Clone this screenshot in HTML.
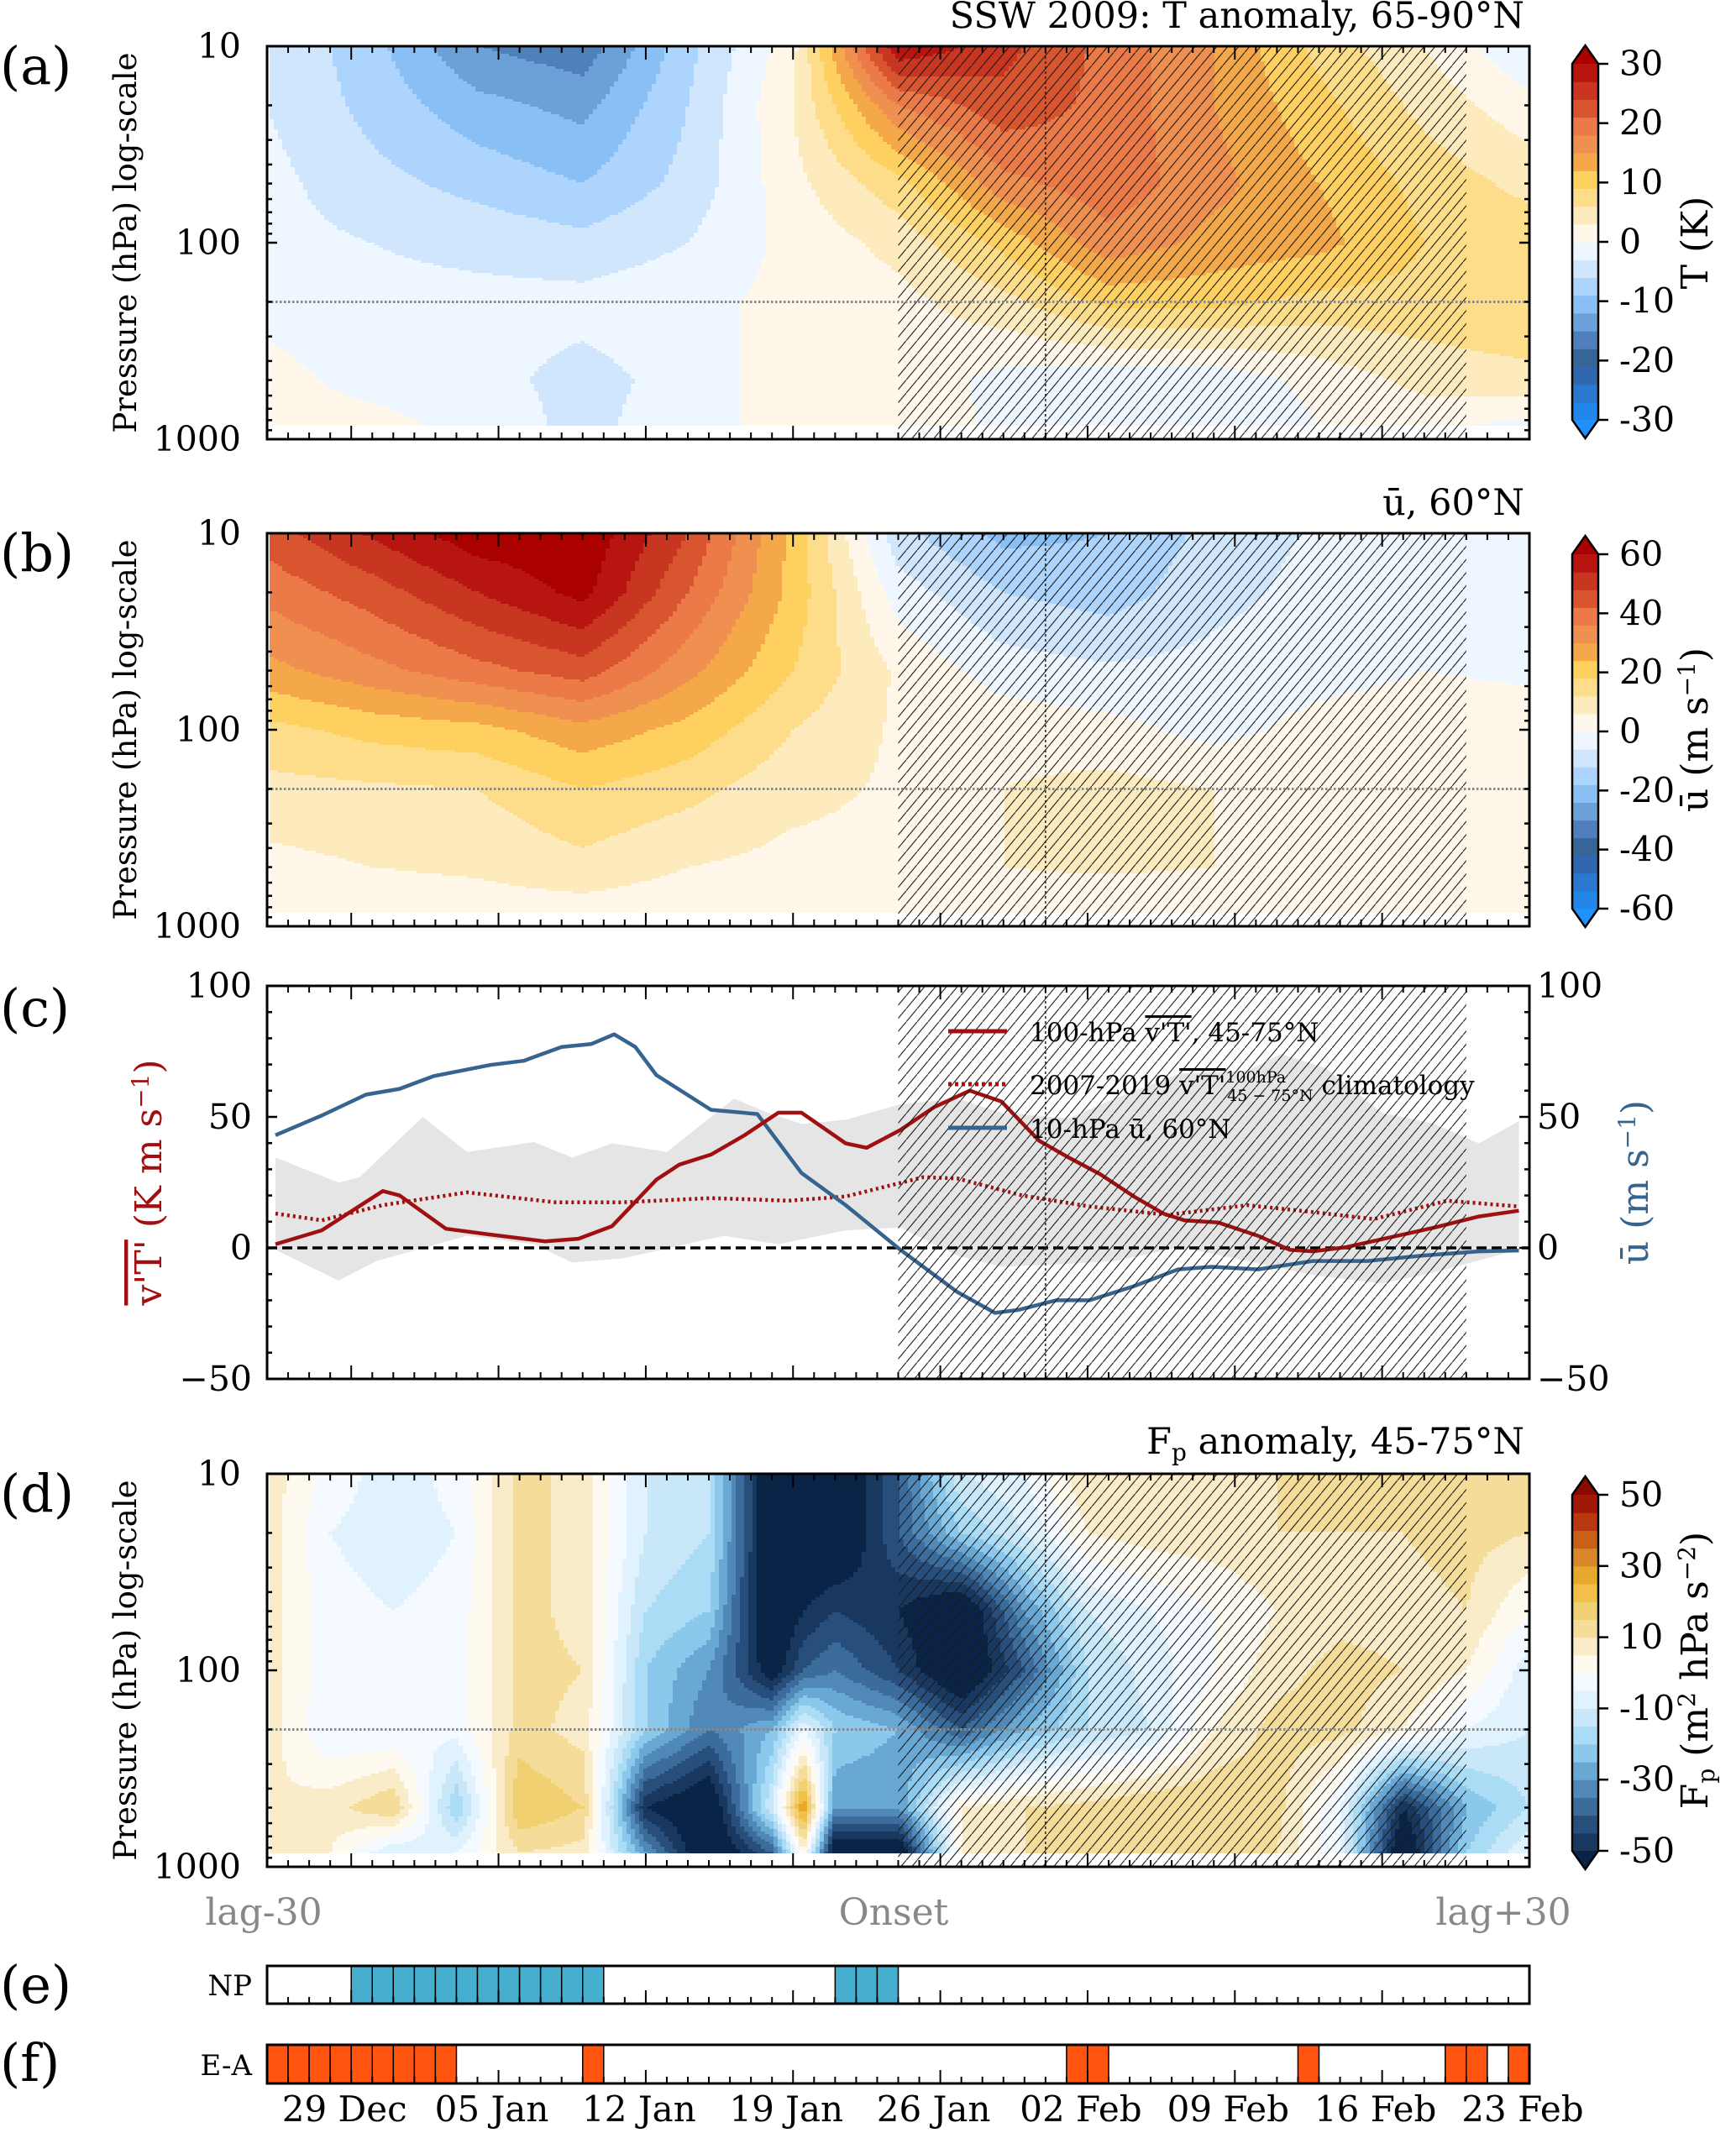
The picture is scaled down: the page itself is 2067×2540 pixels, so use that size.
<!DOCTYPE html>
<html><head><meta charset="utf-8">
<style>
html,body{margin:0;padding:0;background:#fff;}
svg{display:block;font-family:"DejaVu Serif","Liberation Serif",serif;}
</style></head>
<body>
<svg id="fig" width="2067" height="2540" viewBox="0 0 2067 2540" xmlns="http://www.w3.org/2000/svg">
<defs>
<pattern id="hatch" width="13" height="15.6" patternUnits="userSpaceOnUse">
<line x1="-1" y1="16.8" x2="14" y2="-1.2" stroke="#1a1a1a" stroke-width="1.1"/>
</pattern>
</defs>
<g id="layer-heat"></g>
<g id="layer-c"></g>
<g id="layer-over"></g>
<g id="layer-axes"></g>
<g id="layer-text" fill="#000">
<text x="0" y="100" font-size="62">(a)</text>
<text x="0" y="680" font-size="62">(b)</text>
<text x="0" y="1222" font-size="62">(c)</text>
<text x="0" y="1800" font-size="62">(d)</text>
<text x="0" y="2385" font-size="62">(e)</text>
<text x="0" y="2478" font-size="62">(f)</text>
<text x="1815" y="33" font-size="43" text-anchor="end">SSW 2009: T anomaly, 65-90°N</text>
<text x="1815" y="613" font-size="43" text-anchor="end">ū, 60°N</text>
<text x="1815" y="1731" font-size="43" text-anchor="end">F<tspan font-size="28" dy="8">p</tspan><tspan dy="-8"> anomaly, 45-75°N</tspan></text>
<text transform="translate(162,289) rotate(-90)" font-size="37" text-anchor="middle">Pressure (hPa) log-scale</text>
<text transform="translate(162,869) rotate(-90)" font-size="37" text-anchor="middle">Pressure (hPa) log-scale</text>
<text transform="translate(162,1989) rotate(-90)" font-size="37" text-anchor="middle">Pressure (hPa) log-scale</text>
<text transform="translate(2033,289) rotate(-90)" font-size="44" text-anchor="middle">T (K)</text>
<text transform="translate(2033,869) rotate(-90)" font-size="44" text-anchor="middle">ū (m s<tspan font-size="28" dy="-15">−1</tspan><tspan dy="15">)</tspan></text>
<text transform="translate(2033,1989) rotate(-90)" font-size="44" text-anchor="middle">F<tspan font-size="28" dy="8">p</tspan><tspan dy="-8"> (m</tspan><tspan font-size="28" dy="-15">2</tspan><tspan dy="15"> hPa s</tspan><tspan font-size="28" dy="-15">−2</tspan><tspan dy="15">)</tspan></text>
<text transform="translate(192,1408) rotate(-90)" font-size="44" text-anchor="middle" fill="#a01010"><tspan text-decoration="overline">v'T'</tspan> (K m s<tspan font-size="28" dy="-15">−1</tspan><tspan dy="15">)</tspan></text>
<text transform="translate(1962,1408) rotate(-90)" font-size="44" text-anchor="middle" fill="#36648f">ū (m s<tspan font-size="28" dy="-15">−1</tspan><tspan dy="15">)</tspan></text>
<text x="314" y="2292" font-size="44" fill="#888" text-anchor="middle">lag-30</text>
<text x="1064" y="2292" font-size="44" fill="#888" text-anchor="middle">Onset</text>
<text x="1790" y="2292" font-size="44" fill="#888" text-anchor="middle">lag+30</text>
<text x="300" y="2376" font-size="34" text-anchor="end">NP</text>
<text x="300" y="2471" font-size="34" text-anchor="end">E-A</text>
<g>
<line x1="1129" y1="1228" x2="1199" y2="1228" stroke="#a01010" stroke-width="5"/>
<text x="1226" y="1240" font-size="31">100-hPa <tspan text-decoration="overline">v'T'</tspan>, 45-75°N</text>
<line x1="1129" y1="1291" x2="1199" y2="1291" stroke="#a01010" stroke-width="5" stroke-dasharray="4 4"/>
<text x="1226" y="1303" font-size="31">2007-2019 <tspan text-decoration="overline">v'T'</tspan><tspan font-size="19" dy="-14">100hPa</tspan><tspan font-size="19" dx="-70" dy="22">45 − 75°N</tspan><tspan dy="-8"> climatology</tspan></text>
<line x1="1129" y1="1343" x2="1199" y2="1343" stroke="#36648f" stroke-width="5"/>
<text x="1226" y="1355" font-size="31">10-hPa ū, 60°N</text>
</g>
</g>
</svg>
<script>
// ---------- shared data ----------
const gridDays = [0,5,10,15,20,25,30,35,40,45,50,55,60];
const pLevels = [10,20,50,100,200,500,850];
// Panel (a) T anomaly (K), one array per pressure level
const tAnom10  = [-3,-8,-15,-17,-7,2,30,25,20,15,8,3,-3];
const tAnom20  = [-3,-7,-11,-13,-6,3,18,23,20,15,10,5,1];
const tAnom50  = [-2,-5,-7,-9,-5,2,8,17,20,16,12,8,5];
const tAnom100 = [-2,-3,-4,-5,-3,1,4,10,17,14,13,9,8];
const tAnom200 = [-1,-2,-2,-2,-1,1,2,5,10,10,8,8,9];
const tAnom500 = [1,-1,-2,-4,-2,2,2,-1,-2,-2,1,4,5];
const tAnom850 = [1,1,-1,-4,-1,1,3,-1,-2,-3,0,1,-1];
// Panel (b) zonal-mean u at 60N (m/s)
const u10  = [45,55,64,65,48,22,-10,-20,-18,-10,-5,-3,-2];
const u20  = [38,45,54,62,42,22,-3,-12,-15,-8,-4,-2,-2];
const u50  = [28,34,40,45,32,18,5,-3,-5,-4,-2,0,-1];
const u100 = [16,20,22,28,22,12,5,4,2,-2,2,3,3];
const u200 = [10,11,12,18,14,8,5,6,8,6,5,4,4];
const u500 = [4,6,7,10,6,4,4,6,7,6,5,5,4];
const u850 = [1,2,3,3,2,2,2,2,1,1,0,2,4];
// Panel (d) Fp anomaly
const fpDays = [0,3,6,9,12,15,18,21,24,25.5,27,30,33,36,39,42,45,48,51,54,57,60];
const fp10  = [8,-2,-8,-3,12,8,-10,-15,-60,-60,-60,-40,-10,-5,10,10,10,10,12,12,15,12];
const fp20  = [8,-5,-8,-5,12,8,-10,-15,-60,-60,-60,-40,-20,-10,5,8,8,10,10,10,12,10];
const fp50  = [8,-3,-5,-3,12,8,-15,-20,-60,-50,-45,-50,-60,-30,-10,-5,0,5,8,8,10,0];
const fp100 = [8,-3,-5,-3,12,10,-20,-30,-55,-40,-35,-45,-60,-40,-15,-8,0,8,12,10,5,-8];
const fp200 = [8,-5,-5,-3,12,8,-20,-35,-25,-5,-20,-25,-40,-25,-15,-10,5,12,12,5,-5,-10];
const fp500 = [5,8,15,-20,20,15,-50,-60,-10,30,-30,-30,5,10,12,15,15,12,-5,-50,-25,-15];
const fp850 = [5,5,-10,-5,10,8,-30,-60,-40,5,-60,-60,5,10,12,12,10,10,-5,-60,-20,-5];
// Panel (c) series
const vtDays = [0.4,2.6,5.5,6.3,8.5,10.6,13.2,14.8,16.4,18.5,19.6,21.1,22.7,24.3,25.4,27.5,28.5,30.1,31.7,33.4,34.9,36.7,38.1,39.6,41.2,42.6,43.6,45.2,47.1,48.6,49.7,51.3,55.5,57.6,59.5];
const vtValues = [1.4,6.7,21.7,20,7.3,5.1,2.5,3.5,8.3,26,31.8,35.6,43,51.6,51.6,39.9,38.2,45,53.7,60,55.9,40.9,34.5,28.1,19.6,13.1,10.5,9.7,4.6,-0.7,-1.3,0.3,7.8,12,14.2];
const climDays = [0.4,2.6,5.5,9.5,13.7,16.9,21.1,24.8,27.5,31.2,32.8,35.9,39.1,42.8,46.6,49.7,52.6,56.1,59.5];
const climValues = [13.1,10.5,16.3,21.2,17.4,17.4,19,18,19.6,27,26.5,20,15.8,12.6,16.3,13.7,11,18,15.8];
const uDays = [0.4,2.6,4.7,6.3,7.9,10.6,12.2,14,15.4,16.5,17.5,18.5,21.1,23.3,25.4,27.5,30.1,32.8,34.6,35.7,37.5,39.1,41.2,43.3,44.9,47.1,49.7,52.3,55,57.6,59.5];
const uValues = [43,50.5,58.5,60.7,65.5,69.8,71.4,76.7,77.8,81.5,76.7,66,52.7,51.1,28.6,16.3,-0.7,-16.8,-24.8,-23.7,-20,-20,-14.6,-8.2,-7.2,-8.2,-5,-5,-2.9,-1.3,-1];
const bandUpperDays = [0.4,3.4,4.4,7.4,9.5,12.7,14.5,16.4,19,22.2,23.8,25.4,27.5,30.1,32.8,34.9,38.1,40.3,43.4,46.6,48.2,50.3,53,55.5,57.6,59.5];
const bandUpper = [34.5,24.9,27,50,36.6,40.4,34.5,39.9,36.6,57,51.6,47.3,48.9,54.8,57,51.6,49.5,57,66.6,67.6,74,68.7,51.6,47.3,39.9,48.4];
const bandLowerDays = [0.4,3.4,5.2,9.5,12.7,14.5,16.9,21.7,24.3,27.5,30.1,32.8,34.9,38.1,40.3,43.4,46.6,49.7,53,55.5,59.5];
const bandLower = [-0.7,-12.5,-5,4.6,1.4,-5.6,-4,4.6,1.4,6.7,7.8,-2.9,-7.2,-6.1,-5,0.3,-5,-10.4,-13.6,-9.3,-0.7];
// Panels (e),(f) regime days (day index from lag-30)
const npDays = [4,5,6,7,8,9,10,11,12,13,14,15,27,28,29];
const eaDays = [0,1,2,3,4,5,6,7,8,15,38,39,49,56,57,59];
const dateLabels = ['29 Dec','05 Jan','12 Jan','19 Jan','26 Jan','02 Feb','09 Feb','16 Feb','23 Feb'];
const cbTicksA = [30,20,10,0,-10,-20,-30];
const cbTicksB = [60,40,20,0,-20,-40,-60];
const cbTicksD = [50,30,10,-10,-30,-50];
const cTicksLeft = [100,50,0,-50];

// ---------- geometry ----------
const SVGNS='http://www.w3.org/2000/svg';
const X0=318, X1=1821, DAYPX=(X1-X0)/60, PH=468;
const TOPS={a:55,b:635,c:1174,d:1755};
const xd = d => X0 + d*DAYPX;
const yp = (top,p) => top + (Math.log10(p)-1)/2*PH;
const yc = v => TOPS.c + (100-v)*PH/150;
function el(tag,attrs,parent){const e=document.createElementNS(SVGNS,tag);for(const k in attrs)e.setAttribute(k,attrs[k]);parent.appendChild(e);return e;}

const colsTU = ['#2090ff','#2286e8','#2a78d0','#2f68b0','#386598','#5080bb','#6ca0d8','#88c0f5','#acd4fd','#cfe6fd','#eef6ff','#fff8ea','#feebbd','#fedd8a','#fdd060','#f5a84a','#f09050','#ec7a48','#d85530','#c83520','#b81410','#aa0000'];
const colsFP = ['#0a2448','#183860','#284e7c','#3c6c9c','#5088b8','#6aa8d4','#8cc8ec','#aadcf5','#c8e8fa','#e0f2fd','#f4faff','#fffaf0','#faecc8','#f5dc98','#f0d070','#f2c048','#e8a830','#d88828','#c86018','#b83810','#a01808','#8b0a00'];
function colorFor(v,step,cols){let i=Math.floor(v/step)+11; if(i<0)i=0; if(i>21)i=21; return cols[i];}

function interp(days,rows,d,p){
  const lp=Math.log10(p); const lps=pLevels.map(Math.log10);
  let j=0; while(j<lps.length-2 && lp>lps[j+1]) j++;
  let ty=(lp-lps[j])/(lps[j+1]-lps[j]); ty=Math.max(0,Math.min(1,ty));
  let i=0; while(i<days.length-2 && d>days[i+1]) i++;
  let tx=(d-days[i])/(days[i+1]-days[i]); tx=Math.max(0,Math.min(1,tx));
  const a=rows[j][i]*(1-tx)+rows[j][i+1]*tx, b=rows[j+1][i]*(1-tx)+rows[j+1][i+1]*tx;
  return a*(1-ty)+b*ty;
}
const heatLayer=document.getElementById('layer-heat');
function heat(name,top,days,rows,step,cols){
  const g=el('g',{'shape-rendering':'crispEdges'},heatLayer);
  
  
  const yBot=yp(top,850), DX=5, DY=3;
  for(let y=top;y<yBot;y+=DY){
    const p=Math.pow(10,1+(y+DY/2-top)/PH*2);
    let runStart=X0+3, runCol=null;
    for(let x=X0+3;x<=X1;x+=DX){
      let c=null;
      if(x<X1){const d=(x+DX/2-X0)/DAYPX; c=colorFor(interp(days,rows,d,p),step,cols);}
      if(c!==runCol){
        if(runCol!==null){
          const r=el('rect',{x:runStart,y:y,width:Math.min(x,X1)-runStart,height:Math.min(DY,yBot-y)+0.5,fill:runCol},g);
          
          
        }
        runStart=x; runCol=c;
      }
    }
  }
}
heat('t-anomaly-field',TOPS.a,gridDays,[tAnom10,tAnom20,tAnom50,tAnom100,tAnom200,tAnom500,tAnom850],3,colsTU);
heat('u-wind-field',TOPS.b,gridDays,[u10,u20,u50,u100,u200,u500,u850],6,colsTU);
heat('fp-anomaly-field',TOPS.d,fpDays,[fp10,fp20,fp50,fp100,fp200,fp500,fp850],5,colsFP);

// ---------- panel (c) ----------
const cl=document.getElementById('layer-c');
function pts(ds,vs){return ds.map((d,i)=>xd(d).toFixed(1)+','+yc(vs[i]).toFixed(1));}
const band=el('polygon',{points:pts(bandUpperDays,bandUpper).concat(pts(bandLowerDays,bandLower).reverse()).join(' '),fill:'#e5e5e5'},cl);


const zl=el('line',{x1:X0,x2:X1,y1:yc(0),y2:yc(0),stroke:'#000','stroke-width':3.5,'stroke-dasharray':'12 6'},cl);


const clim=el('polyline',{points:pts(climDays,climValues).join(' '),fill:'none',stroke:'#a01010','stroke-width':4.5,'stroke-dasharray':'3 4'},cl);


const ul=el('polyline',{points:pts(uDays,uValues).join(' '),fill:'none',stroke:'#36648f','stroke-width':4.5,'stroke-linejoin':'round'},cl);


const vl=el('polyline',{points:pts(vtDays,vtValues).join(' '),fill:'none',stroke:'#a01010','stroke-width':4.5,'stroke-linejoin':'round'},cl);



// ---------- overlays ----------
const ov=document.getElementById('layer-over');
['a','b','c','d'].forEach(k=>{
  const t=TOPS[k];
  const h=el('rect',{x:xd(30),y:t,width:xd(57)-xd(30),height:PH,fill:'url(#hatch)'},ov);
  
  
  const v=el('line',{x1:xd(37),x2:xd(37),y1:t,y2:t+PH,stroke:'#222','stroke-width':1.5,'stroke-dasharray':'3 3'},ov);
  
  
  if(k!=='c'){
    const hl=el('line',{x1:X0,x2:X1,y1:yp(t,200),y2:yp(t,200),stroke:'#888','stroke-width':3,'stroke-dasharray':'2.5 2.5'},ov);
    
    
  }
});

// ---------- axes ----------
const ax=document.getElementById('layer-axes');
function xticks(top,bottom,both){
  for(let d=1;d<60;d++){
    const major=((d-4)%7===0);
    const L=major?16:8;
    el('line',{x1:xd(d),x2:xd(d),y1:bottom,y2:bottom-L,stroke:'#000','stroke-width':2},ax);
    if(both) el('line',{x1:xd(d),x2:xd(d),y1:top,y2:top+L,stroke:'#000','stroke-width':2},ax);
  }
}
function logY(top){
  [10,20,30,40,50,60,70,80,90,100,200,300,400,500,600,700,800,900,1000].forEach(p=>{
    const major=(p===10||p===100||p===1000); const L=major?12:6; const y=yp(top,p);
    el('line',{x1:X0,x2:X0+L,y1:y,y2:y,stroke:'#000','stroke-width':2.5},ax);
    el('line',{x1:X1,x2:X1-L,y1:y,y2:y,stroke:'#000','stroke-width':2.5},ax);
    if(major){const t=el('text',{x:287,y:y+14,'font-size':41,'text-anchor':'end'},ax);t.textContent=p;
      
      }
  });
}
['a','b','d'].forEach(k=>{const t=TOPS[k];
  const f=el('rect',{x:X0,y:t,width:X1-X0,height:PH,fill:'none',stroke:'#000','stroke-width':3},ax);
  
  
  xticks(t,t+PH,true); logY(t);});
{const t=TOPS.c;
 const f=el('rect',{x:X0,y:t,width:X1-X0,height:PH,fill:'none',stroke:'#000','stroke-width':3},ax);
 
 
 xticks(t,t+PH,true);
 for(let v=-50;v<=100;v+=10){const major=(v%50===0);const L=major?12:6;const y=yc(v);
   el('line',{x1:X0,x2:X0+L,y1:y,y2:y,stroke:'#000','stroke-width':2.5},ax);
   el('line',{x1:X1,x2:X1-L,y1:y,y2:y,stroke:'#000','stroke-width':2.5},ax);}
 cTicksLeft.forEach(v=>{
   const a=el('text',{x:300,y:yc(v)+14,'font-size':41,'text-anchor':'end'},ax);a.textContent=(v<0?'−':'')+Math.abs(v);
   
   
   const b=el('text',{x:1830,y:yc(v)+14,'font-size':41},ax);b.textContent=(v<0?'−':'')+Math.abs(v);
   
   });
}
function colorbar(name,top,bot,cols,ticks,maxv){
  const g=el('g',{},ax);
  
  
  const xL=1872,xR=1903,tipT=top-22,tipB=bot+22;
  const n=20, bh=(bot-top)/n;
  for(let i=0;i<n;i++){
    const r=el('rect',{x:xL,y:bot-(i+1)*bh,width:xR-xL,height:bh+0.6,fill:cols[i+1]},g);
    
    
  }
  el('polygon',{points:`${xL},${top} ${(xL+xR)/2},${tipT} ${xR},${top}`,fill:cols[21]},g);
  el('polygon',{points:`${xL},${bot} ${(xL+xR)/2},${tipB} ${xR},${bot}`,fill:cols[0]},g);
  el('polygon',{points:`${xL},${top} ${(xL+xR)/2},${tipT} ${xR},${top} ${xR},${bot} ${(xL+xR)/2},${tipB} ${xL},${bot}`,fill:'none',stroke:'#000','stroke-width':2.5},g);
  ticks.forEach(v=>{const y=top+(maxv-v)/(2*maxv)*(bot-top);
    el('line',{x1:xR,x2:xR+12,y1:y,y2:y,stroke:'#000','stroke-width':2.5},g);
    const t=el('text',{x:1928,y:y+14,'font-size':41},g);t.textContent=v;
    
    });
}
colorbar('colorbar-t',76,500,colsTU,cbTicksA,30);
colorbar('colorbar-u',660,1082,colsTU,cbTicksB,60);
colorbar('colorbar-fp',1780,2204,colsFP,cbTicksD,50);

function regime(name,top,bot,days,color){
  const g=el('g',{},ax);
  
  
  days.forEach(d=>{const r=el('rect',{x:xd(d),y:top,width:DAYPX,height:bot-top,fill:color,stroke:'#000','stroke-width':1.5},g);
    
    });
  for(let d=1;d<60;d++){const major=((d-4)%7===0);const L=major?16:8;
    el('line',{x1:xd(d),x2:xd(d),y1:bot,y2:bot-L,stroke:'#000','stroke-width':2},g);}
  el('rect',{x:X0,y:top,width:X1-X0,height:bot-top,fill:'none',stroke:'#000','stroke-width':3},g);
}
regime('np-regime-strip',2341,2386,npDays,'#46aecf');
regime('ea-regime-strip',2435,2481,eaDays,'#ff5510');
dateLabels.forEach((s,i)=>{const t=el('text',{x:xd(4+7*i)-8,y:2526,'font-size':42,'text-anchor':'middle'},ax);t.textContent=s;
  
  });
</script>
</body></html>
